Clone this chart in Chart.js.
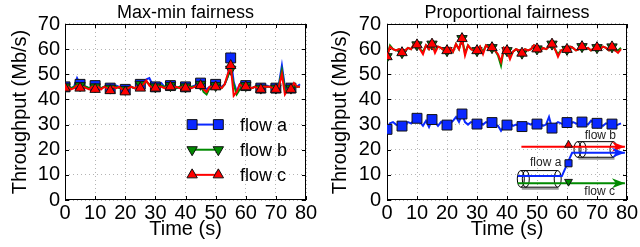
<!DOCTYPE html>
<html>
<head>
<meta charset="utf-8">
<script src="https://cdn.jsdelivr.net/npm/chart.js@4/dist/chart.umd.min.js"></script>
<style>
  html, body { margin: 0; padding: 0; background: #fff; }
  #wrap { position: relative; width: 640px; height: 247px; }
  canvas { position: absolute; top: 0; }
  #maxmin { left: 0; }
  #prop { left: 320px; }
</style>
</head>
<body>
<div id="wrap">
  <canvas id="maxmin" width="320" height="247"></canvas>
  <canvas id="prop" width="320" height="247"></canvas>
</div>
<script>
// time axis (s), one sample per second
const TIME = [0, 1, 2, 3, 4, 5, 6, 7, 8, 9, 10, 11, 12, 13, 14, 15, 16, 17, 18, 19,
  20, 21, 22, 23, 24, 25, 26, 27, 28, 29, 30, 31, 32, 33, 34, 35, 36, 37, 38, 39,
  40, 41, 42, 43, 44, 45, 46, 47, 48, 49, 50, 51, 52, 53, 54, 55, 56, 57, 58, 59,
  60, 61, 62, 63, 64, 65, 66, 67, 68, 69, 70, 71, 72, 73, 74, 75, 76, 77, 78];
const MARKER_TIMES = [0, 5, 10, 15, 20, 25, 30, 35, 40, 45, 50, 55, 60, 65, 70, 75];
const X_TICKS = [0, 10, 20, 30, 40, 50, 60, 70, 80];
const Y_TICKS = [0, 10, 20, 30, 40, 50, 60, 70];
const FLOW_LABELS = ['flow a', 'flow b', 'flow c'];

// Max-min fairness (Mb/s)
const MAXMIN_A = [45, 45.5, 44.5, 45, 48.5, 46, 45.5, 45, 44.5, 45,
  45.5, 45, 44.5, 45, 45.5, 44.5, 45, 45.5, 45, 44.5,
  44, 45.5, 45, 44.5, 45, 46, 46.5, 48, 48.5, 46,
  45, 45.5, 46.5, 45, 45.5, 45.5, 45, 44.5, 45, 45.5,
  45, 44.5, 45, 45.5, 46, 46.5, 45, 44, 45, 45.5,
  46, 45.5, 45, 46, 49, 56.5, 47, 43, 46, 45,
  45.5, 45, 44.5, 45, 44.5, 44.5, 45, 45.5, 45, 44.5,
  44.5, 46, 53.5, 45, 44, 44.5, 45.5, 45, 46];
const MAXMIN_B = [45, 45, 44.5, 45, 46, 45.5, 45, 45, 44.5, 45,
  45, 45, 44.5, 45, 45, 44.5, 45, 45, 44.5, 44.5,
  44, 44.5, 45, 44.5, 45, 46, 46, 47, 46, 45,
  45, 45, 45.5, 45, 45, 45.5, 45, 44.5, 45, 45,
  45, 44.5, 45, 45, 45.5, 46, 43, 42, 44.5, 45,
  45.5, 45, 44.5, 46, 49, 52, 46, 42, 44, 45,
  45.5, 45, 44.5, 45, 44.5, 44.5, 45, 45, 45, 44.5,
  44.5, 45.5, 51.5, 44, 43, 44.5, 45, 45, 45];
const MAXMIN_C = [44.5, 45, 44, 44.5, 45.5, 44.5, 45, 44.5, 44, 45,
  44, 45, 44, 45, 44.5, 43.5, 45, 44.5, 45, 44,
  43, 44.5, 45, 44.5, 45, 44.5, 46, 47.5, 45.5, 44.5,
  44.5, 45, 45, 44.5, 45, 45, 44.5, 45, 44.5, 45,
  44.5, 45, 44.5, 45, 45.5, 45.5, 44, 43, 45, 45,
  45, 45, 44.5, 46, 50, 53.5, 41.5, 43, 46, 45,
  45, 45, 44.5, 45, 44.5, 44, 45, 45, 45, 44.5,
  44, 45, 50, 42, 44, 44, 46.5, 45, 45];

// Proportional fairness (Mb/s)
const PROP_A = [28.1, 30.5, 31, 30, 29.5, 29.4, 30, 31, 30.5, 31.5,
  32.5, 31, 29.5, 31.5, 29, 32, 31, 29.5, 31, 30.5,
  29.8, 30.5, 31.5, 33, 31, 34.2, 31, 30, 31, 30.5,
  30.2, 31, 30, 31, 30.5, 30.8, 30, 29.5, 27.5, 29.5,
  29.8, 30.5, 29.5, 30, 29.5, 29.2, 30, 30.5, 30, 31,
  30.2, 30.5, 29.5, 30, 33, 28.6, 30, 31, 30.5, 30,
  30.8, 30, 31, 30.5, 30, 31, 30.5, 30, 31.5, 30.5,
  30.5, 30, 29.5, 30.5, 30, 30.2, 29.5, 30, 30.5];
const PROP_B = [57, 61.5, 60, 59.5, 60, 58.6, 59.5, 60.5, 60, 62,
  61.7, 60, 59, 61.5, 60, 62, 59.5, 61, 60.5, 59.5,
  59.4, 60.5, 59, 62, 60, 64.2, 58.5, 61.5, 60, 59.5,
  59.4, 61, 59, 61.5, 60.5, 60.6, 59.5, 57.5, 53.5, 60.5,
  59.4, 57, 59, 60, 59.5, 58.4, 60, 59.5, 60, 61.5,
  60.1, 59, 60.5, 60, 61, 62, 60, 58, 59.5, 60,
  59.9, 61, 60.5, 59.5, 60, 61, 60, 60.5, 59.5, 60.5,
  60.6, 60, 61, 60.5, 59.5, 60.9, 59.5, 59.5, 60.5];
const PROP_C = [57, 61, 60, 59.5, 60, 58.6, 59.5, 60.5, 60, 62,
  61.7, 60, 58, 61.5, 60, 62, 58.5, 61, 60.5, 59.5,
  59.4, 60.5, 59, 62, 60, 64.2, 57.5, 61.5, 60, 59.5,
  59.4, 61, 58, 61.5, 60.5, 60.6, 59.5, 58, 55, 60.5,
  59.4, 56, 59, 60, 59.5, 58.4, 60, 59.5, 60, 61.5,
  60.1, 59, 60.5, 60, 61, 62, 60, 57, 59.5, 60,
  59.9, 61, 60.5, 59.5, 60, 61, 60, 60.5, 59.5, 60.5,
  60.6, 60, 61, 60.5, 59.5, 60.9, 59.5, 58.5, 60];

const FONT = '"Liberation Sans", Arial, Helvetica, sans-serif';
const BLUE = '#0a28ff';
const GREEN = '#008a00';
const RED = '#ff0000';
const MARKERS = [
  { color: BLUE, style: 'rect', rotation: 0, radius: 7 },
  { color: GREEN, style: 'triangle', rotation: 180, radius: 6 },
  { color: RED, style: 'triangle', rotation: 0, radius: 6 }
];

function makeSeries(values) {
  return values.map((v, i) => ({ x: TIME[i], y: v }));
}

function flowDataset(i, values) {
  const m = MARKERS[i];
  return {
    label: FLOW_LABELS[i],
    data: makeSeries(values),
    borderColor: m.color,
    borderWidth: 2,
    pointStyle: m.style,
    pointRotation: m.rotation,
    pointRadius: (ctx) => (ctx.raw && MARKER_TIMES.includes(ctx.raw.x)) ? m.radius : 0,
    pointHoverRadius: 0,
    pointBackgroundColor: m.color,
    pointBorderColor: '#111',
    pointBorderWidth: 1,
    tension: 0,
    order: 3 - i
  };
}

function drawMarker(ctx, i, x, y) {
  const m = MARKERS[i];
  ctx.fillStyle = m.color;
  ctx.strokeStyle = '#111';
  ctx.lineWidth = 1;
  Chart.helpers.drawPoint(ctx, { pointStyle: m.style, rotation: m.rotation, radius: m.radius, borderWidth: 1 }, x, y);
}

// black border plus gnuplot-style inner ticks
const framePlugin = {
  id: 'frame',
  beforeDatasetsDraw(chart) {
    const { ctx, chartArea: a, scales: { x, y } } = chart;
    ctx.save();
    ctx.strokeStyle = '#000';
    ctx.lineWidth = 1;
    ctx.beginPath();
    X_TICKS.forEach((v) => {
      const px = Math.round(x.getPixelForValue(v)) + 0.5;
      ctx.moveTo(px, a.bottom); ctx.lineTo(px, a.bottom - 4);
      ctx.moveTo(px, a.top); ctx.lineTo(px, a.top + 4);
    });
    Y_TICKS.forEach((v) => {
      const py = Math.round(y.getPixelForValue(v)) + 0.5;
      ctx.moveTo(a.left, py); ctx.lineTo(a.left + 4, py);
      ctx.moveTo(a.right, py); ctx.lineTo(a.right - 4, py);
    });
    ctx.stroke();
    ctx.strokeRect(Math.round(a.left) + 0.5, Math.round(a.top) + 0.5, Math.round(a.width) - 1, Math.round(a.height) - 1);
    ctx.restore();
  }
};

// legend drawn inside the plot, in data coordinates
const legendPlugin = {
  id: 'insideLegend',
  afterDatasetsDraw(chart) {
    const { ctx, scales: { x, y } } = chart;
    const rows = [30, 20, 10];
    ctx.save();
    rows.forEach((row, i) => {
      const py = y.getPixelForValue(row);
      const x0 = x.getPixelForValue(42.2);
      const x1 = x.getPixelForValue(50.9);
      ctx.strokeStyle = MARKERS[i].color;
      ctx.lineWidth = 2;
      ctx.beginPath(); ctx.moveTo(x0, py); ctx.lineTo(x1, py); ctx.stroke();
      drawMarker(ctx, i, x0, py);
      drawMarker(ctx, i, x1, py);
      ctx.fillStyle = '#000';
      ctx.font = '18px ' + FONT;
      ctx.textAlign = 'left';
      ctx.textBaseline = 'middle';
      ctx.fillText(FLOW_LABELS[i], x.getPixelForValue(58.1), py + 1);
    });
    ctx.restore();
  }
};

function drawCylinder(ctx, x0, x1, yTop, yBot) {
  const cy = (yTop + yBot) / 2;
  const ry = (yBot - yTop) / 2;
  ctx.strokeStyle = '#9a9a9a';
  ctx.lineWidth = 2;
  ctx.beginPath(); ctx.moveTo(x0 + 1, yBot + 1.5); ctx.lineTo(x1 + 1, yBot + 1.5); ctx.stroke();
  ctx.strokeStyle = '#000';
  ctx.lineWidth = 1;
  ctx.beginPath();
  ctx.moveTo(x0, yTop); ctx.lineTo(x1, yTop);
  ctx.moveTo(x0, yBot); ctx.lineTo(x1, yBot);
  ctx.stroke();
  [x0, x0 + 5, x1].forEach((ex) => {
    ctx.beginPath();
    ctx.ellipse(ex, cy, 3.5, ry, 0, 0, Math.PI * 2);
    ctx.stroke();
  });
}

function drawArrow(ctx, pts, color) {
  ctx.strokeStyle = color;
  ctx.lineWidth = 2;
  ctx.beginPath();
  pts.forEach((p, i) => (i ? ctx.lineTo(p[0], p[1]) : ctx.moveTo(p[0], p[1])));
  const [tx, ty] = pts[pts.length - 1];
  ctx.lineTo(tx - 8, ty);
  ctx.stroke();
  ctx.fillStyle = color;
  ctx.beginPath();
  ctx.moveTo(tx, ty);
  ctx.lineTo(tx - 13, ty - 5);
  ctx.lineTo(tx - 9, ty);
  ctx.lineTo(tx - 13, ty + 5);
  ctx.closePath();
  ctx.fill();
}

// topology sketch in the proportional fairness panel
const sketchPlugin = {
  id: 'sketch',
  afterDatasetsDraw(chart) {
    const { ctx, scales: { x, y } } = chart;
    const P = (t, v) => [x.getPixelForValue(t), y.getPixelForValue(v)];
    ctx.save();
    const c1a = P(44.6, 11.7), c1b = P(56.9, 5.1);
    const c2a = P(63.5, 23.2), c2b = P(75.5, 17.0);
    drawCylinder(ctx, c1a[0], c1b[0], c1a[1], c1b[1]);
    drawCylinder(ctx, c2a[0], c2b[0], c2a[1], c2b[1]);
    drawArrow(ctx, [P(44.8, 21.2), P(79.3, 21.2)], RED);
    drawArrow(ctx, [P(43.6, 9.5), P(58.3, 9.5), P(61.7, 18.8), P(79.3, 18.8)], BLUE);
    drawArrow(ctx, [P(43.6, 6.7), P(79.3, 6.7)], GREEN);
    const mr = P(60.5, 21.9), mb = P(60.5, 14.6), mg = P(60.5, 7.3);
    ctx.fillStyle = RED; ctx.strokeStyle = '#111'; ctx.lineWidth = 1;
    Chart.helpers.drawPoint(ctx, { pointStyle: 'triangle', rotation: 0, radius: 4.5, borderWidth: 1 }, mr[0], mr[1]);
    ctx.fillStyle = BLUE;
    Chart.helpers.drawPoint(ctx, { pointStyle: 'rect', rotation: 0, radius: 5, borderWidth: 1 }, mb[0], mb[1]);
    ctx.fillStyle = GREEN;
    Chart.helpers.drawPoint(ctx, { pointStyle: 'triangle', rotation: 180, radius: 4.5, borderWidth: 1 }, mg[0], mg[1]);
    ctx.fillStyle = '#222';
    ctx.font = '12px ' + FONT;
    ctx.textBaseline = 'middle';
    ctx.textAlign = 'center';
    let p = P(71.1, 25.7); ctx.fillText(FLOW_LABELS[1], p[0], p[1]);
    p = P(70.9, 3.2); ctx.fillText(FLOW_LABELS[2], p[0], p[1]);
    ctx.textAlign = 'right';
    p = P(58.1, 14.7); ctx.fillText(FLOW_LABELS[0], p[0], p[1]);
    ctx.restore();
  }
};

function makeScales(yWidth, yPad) {
  return {
    x: {
      type: 'linear',
      min: X_TICKS[0],
      max: X_TICKS[X_TICKS.length - 1],
      afterBuildTicks: (s) => { s.ticks = X_TICKS.map((v) => ({ value: v })); },
      afterFit: (s) => { s.height = 47; },
      grid: { color: '#b4b4b4', drawTicks: false, lineWidth: 1 },
      border: { display: false, dash: [1, 3] },
      ticks: { color: '#000', font: { family: FONT, size: 20 }, padding: 1, maxRotation: 0, autoSkip: false },
      title: { display: true, text: 'Time (s)', color: '#000', font: { family: FONT, size: 20 }, padding: { top: 0, bottom: 6 } }
    },
    y: {
      min: Y_TICKS[0],
      max: Y_TICKS[Y_TICKS.length - 1],
      afterBuildTicks: (s) => { s.ticks = Y_TICKS.map((v) => ({ value: v })); },
      afterFit: (s) => { s.width = yWidth; },
      grid: { color: '#b4b4b4', drawTicks: false, lineWidth: 1 },
      border: { display: false, dash: [1, 3] },
      ticks: { color: '#000', font: { family: FONT, size: 20 }, padding: yPad, autoSkip: false },
      title: { display: true, text: 'Throughput (Mb/s)', color: '#000', font: { family: FONT, size: 20 }, padding: { top: 8, bottom: 0 } }
    }
  };
}

function createChart(id, title, series, yWidth, yPad, rightPad, extraPlugins) {
  const ctx = document.getElementById(id).getContext('2d');
  return new Chart(ctx, {
    type: 'line',
    data: { datasets: series.map((values, i) => flowDataset(i, values)) },
    options: {
      responsive: false,
      animation: false,
      devicePixelRatio: 1,
      layout: { padding: { left: 0, right: rightPad, top: 0, bottom: 0 } },
      plugins: {
        legend: { display: false },
        tooltip: { enabled: false },
        title: {
          display: true,
          text: title,
          fullSize: false,
          color: '#000',
          font: { family: FONT, size: 18, weight: 'normal' },
          padding: { top: 2, bottom: 0.4 }
        }
      },
      scales: makeScales(yWidth, yPad)
    },
    plugins: [framePlugin].concat(extraPlugins)
  });
}

document.addEventListener('DOMContentLoaded', () => {
  createChart('maxmin', 'Max-min fairness', [MAXMIN_A, MAXMIN_B, MAXMIN_C], 65, 5, 14, [legendPlugin]);
  createChart('prop', 'Proportional fairness', [PROP_A, PROP_B, PROP_C], 67, 6, 13, [sketchPlugin]);
});
</script>
</body>
</html>
